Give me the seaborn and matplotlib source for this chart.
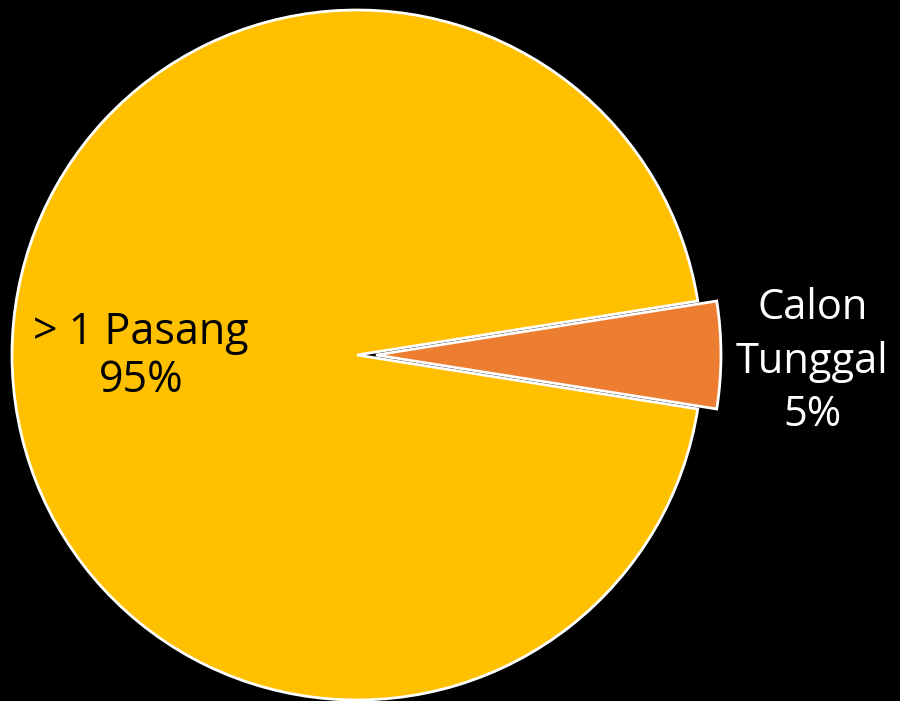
import matplotlib
matplotlib.use("Agg")
import matplotlib.pyplot as plt
import seaborn as sns

# data
labels = ["Calon\nTunggal", "> 1 Pasang"]
values = [5, 95]
colors = ["#ED7D31", "#FFC000"]

sns.set_style("dark")
plt.rcParams['font.family'] = ['Open Sans', 'DejaVu Sans']

fig = plt.figure(figsize=(9, 7.01), dpi=100, facecolor="black")
ax = fig.add_axes([0, 0, 1, 1])
ax.set_facecolor("black")

# pie center ~ (357, 355) px, radius ~ 345 px
wedges, _ = ax.pie(values, colors=colors, startangle=-9, counterclock=True,
                   explode=[0.055, 0], radius=1,
                   wedgeprops=dict(edgecolor="white", linewidth=2))

ax.set_aspect("auto")
ax.set_xlim(-357 / 345, (900 - 357) / 345)
ax.set_ylim(-(701 - 355) / 345, 355 / 345)
ax.axis("off")

# labels
ax.text(-0.626, -0.005, f"{labels[1]}\n{values[1]}%", ha="center", va="center",
        fontsize=31, color="black", linespacing=1.13)
ax.text(1.32, -0.02, f"{labels[0]}\n{values[0]}%", ha="center", va="center",
        fontsize=30, color="white", linespacing=1.36)

plt.savefig("out.png", dpi=100, facecolor="black")
